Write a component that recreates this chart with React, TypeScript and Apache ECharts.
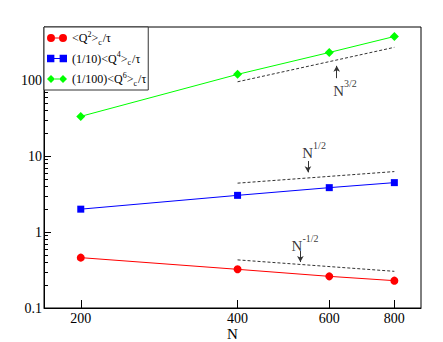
import React, { useEffect, useRef } from "react";
import * as echarts from "echarts";

const xValues = [200, 400, 600, 800];
const q2Values = [0.46, 0.323, 0.261, 0.229];
const q4Values = [2.0, 3.04, 3.84, 4.47];
const q6Values = [33.3, 119, 231, 375];

const xTicks = [200, 400, 600, 800];
const yTicks = [0.1, 1, 10, 100];
const yMinorTicks = [0.2, 0.3, 0.4, 0.5, 0.6, 0.7, 0.8, 0.9, 2, 3, 4, 5, 6, 7, 8, 9, 20, 30, 40, 50, 60, 70, 80, 90, 200, 300, 400, 500];

const refX = [400, 800];
const ref32 = [95, 270];
const ref12 = [4.4, 6.25];
const refM12 = [0.43, 0.304];

const annoExp = ["3/2", "1/2", "-1/2"];
const annoX = [643, 561, 539];
const annoY = [77.8, 11.9, 0.71];
const arrowX = [620, 546, 528];
const arrowFrom = [106, 8.6, 0.562];
const arrowTo = [154, 6.1, 0.403];

const SERIF = "Liberation Serif";

const legendText: Record<string, string> = {
  q2: "{n|<Q}{sup|2}{n|>}{sub|c}{n|/τ}",
  q4: "{n|(1/10)<Q}{sup|4}{n|>}{sub|c}{n|/τ}",
  q6: "{n|(1/100)<Q}{sup|6}{n|>}{sub|c}{n|/τ}",
};

const iconCircle = "path://M0,4A4,4,0,1,1,8,4A4,4,0,1,1,0,4Z M8,3.5L12,3.5L12,4.5L8,4.5Z M12,4A4,4,0,1,1,20,4A4,4,0,1,1,12,4Z";
const iconSquare = "path://M0.5,0.5L7.5,0.5L7.5,7.5L0.5,7.5Z M7.5,3.5L12.5,3.5L12.5,4.5L7.5,4.5Z M12.5,0.5L19.5,0.5L19.5,7.5L12.5,7.5Z";
const iconDiamond = "path://M0,4L4,0L8,4L4,8Z M8,3.5L12,3.5L12,4.5L8,4.5Z M12,4L16,0L20,4L16,8Z";

export default function App() {
  const ref = useRef<HTMLDivElement>(null);
  useEffect(() => {
    if (!ref.current) return;
    const chart = echarts.init(ref.current, null, { renderer: "svg" });
    const pair = (ys: number[], xs: number[]) => xs.map((x, i) => [x, ys[i]]);
    const dashed = (ys: number[]) => ({
      type: "line",
      data: pair(ys, refX),
      symbol: "none",
      lineStyle: { color: "#333", width: 1, type: [3, 2] },
      silent: true,
      z: 1,
    });
    const annoData = annoX.map((x, i) => ({ value: [x, annoY[i]], exp: annoExp[i] }));
    chart.setOption({
      animation: false,
      backgroundColor: "#fff",
      grid: {
        left: 44,
        right: 22,
        top: 27,
        bottom: 34,
        show: true,
        borderColor: "#000",
        borderWidth: 1,
        containLabel: false,
        outerBoundsMode: "none",
      },
      legend: {
        left: 44,
        top: 27,
        orient: "vertical",
        selectedMode: false,
        backgroundColor: "#fff",
        borderColor: "#333",
        borderWidth: 1,
        borderRadius: 0,
        padding: [3, 2, 3, 3],
        itemGap: 4.5,
        itemWidth: 20,
        itemHeight: 8,
        data: [
          { name: "q2", icon: iconCircle },
          { name: "q4", icon: iconSquare },
          { name: "q6", icon: iconDiamond },
        ],
        formatter: (name: string) => legendText[name],
        textStyle: {
          fontFamily: SERIF,
          color: "#000",
          rich: {
            n: { fontFamily: SERIF, fontSize: 12, lineHeight: 16, color: "#000" },
            sup: { fontFamily: SERIF, fontSize: 8, lineHeight: 8, verticalAlign: "top", color: "#000" },
            sub: { fontFamily: SERIF, fontSize: 8, lineHeight: 8, verticalAlign: "bottom", color: "#000", padding: [0, 1, 0, 0] },
          },
        },
      },
      xAxis: {
        type: "log",
        logBase: 10,
        min: 170,
        max: 900,
        name: "N",
        nameLocation: "middle",
        nameGap: 19,
        nameMoveOverlap: false,
        nameTextStyle: { fontFamily: SERIF, fontSize: 15, lineHeight: 14, color: "#000" },
        axisLine: { lineStyle: { color: "#000", width: 1 } },
        axisTick: { inside: true, length: 8, customValues: xTicks, lineStyle: { color: "#000" } },
        axisLabel: { customValues: xTicks, fontFamily: SERIF, fontSize: 14, lineHeight: 14, color: "#000", margin: 3 },
        splitLine: { show: false },
        minorTick: { show: false },
      },
      yAxis: [
        {
          type: "log",
          logBase: 10,
          min: 0.1,
          max: 500,
          axisLine: { lineStyle: { color: "#000", width: 1 } },
          axisTick: { inside: true, length: 7, customValues: yTicks, lineStyle: { color: "#000" } },
          axisLabel: {
            customValues: yTicks,
            fontFamily: SERIF,
            fontSize: 14,
            color: "#000",
            margin: 2,
            formatter: (v: number) => String(v),
          },
          splitLine: { show: false },
        },
        {
          type: "log",
          logBase: 10,
          min: 0.1,
          max: 500,
          position: "left",
          offset: 0,
          axisLine: { show: false },
          axisTick: { inside: true, length: 4, customValues: yMinorTicks, lineStyle: { color: "#000" } },
          axisLabel: { show: false },
          splitLine: { show: false },
        },
      ],
      series: [
        dashed(ref32),
        dashed(ref12),
        dashed(refM12),
        {
          name: "q2",
          type: "line",
          data: pair(q2Values, xValues),
          symbol: "circle",
          symbolSize: 8,
          color: "#ff0000",
          lineStyle: { color: "#ff0000", width: 1 },
          itemStyle: { color: "#ff0000" },
          z: 3,
        },
        {
          name: "q4",
          type: "line",
          data: pair(q4Values, xValues),
          symbol: "rect",
          symbolSize: 7,
          color: "#0000ff",
          lineStyle: { color: "#0000ff", width: 1 },
          itemStyle: { color: "#0000ff" },
          z: 3,
        },
        {
          name: "q6",
          type: "line",
          data: pair(q6Values, xValues),
          symbol: "diamond",
          symbolSize: 9,
          color: "#00ff00",
          lineStyle: { color: "#00ff00", width: 1 },
          itemStyle: { color: "#00ff00" },
          z: 3,
        },
        {
          name: "annotations",
          type: "scatter",
          data: annoData,
          symbolSize: 0,
          silent: true,
          label: {
            show: true,
            position: "inside",
            formatter: (p: any) => `{n|N}{s|${p.data.exp}}`,
            rich: {
              n: { fontFamily: SERIF, fontSize: 15, lineHeight: 20, color: "#000", verticalAlign: "bottom" },
              s: { fontFamily: SERIF, fontSize: 10, lineHeight: 10, color: "#000", verticalAlign: "top" },
            },
          },
          markLine: {
            silent: true,
            symbol: ["none", "arrow"],
            symbolSize: [5, 6],
            label: { show: false },
            lineStyle: { color: "#333", width: 1, type: "solid" },
            data: arrowX.map((x, i) => [{ coord: [x, arrowFrom[i]] }, { coord: [x, arrowTo[i]] }]),
          },
        },
      ],
    });
    return () => chart.dispose();
  }, []);
  return <div ref={ref} style={{ position: "absolute", left: 0, top: 0, width: 443, height: 342 }} />;
}
